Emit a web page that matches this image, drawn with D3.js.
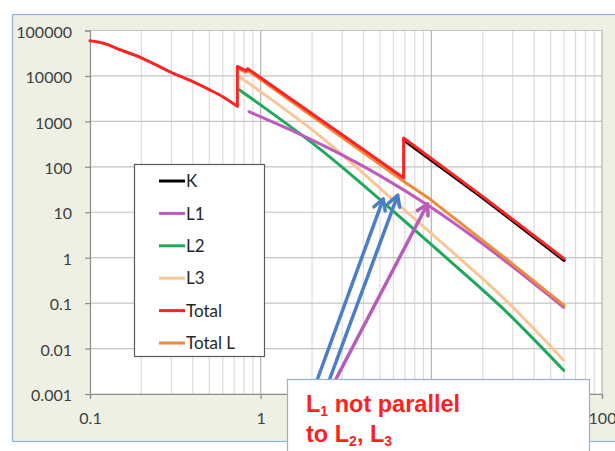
<!DOCTYPE html>
<html><head><meta charset="utf-8">
<script src="https://cdn.jsdelivr.net/npm/d3@7"></script>
<style>
html,body{margin:0;padding:0;background:#fff;}
svg{display:block;}
</style></head>
<body>
<script>
// ---- data (energy in keV) ----
const xTickValues = [0.1, 1, 10, 100];
const xTickLabels = ["0.1", "1", "", "100"];   // the "10" label is hidden under the note box in the picture
const yTickValues = [0.001, 0.01, 0.1, 1, 10, 100, 1000, 10000, 100000];
const yTickLabels = ["0.001", "0.01", "0.1", "1", "10", "100", "1000", "10000", "100000"];

const seriesNames = ["K", "L1", "L2", "L3", "Total", "Total L"];
const seriesColors = ["#000000", "#bd5cbd", "#1ea95a", "#fcc594", "#ff2222", "#ee8a3a"];

const kE = [6.88, 19.4, 60];
const kV = [390, 22.5, 0.87];
const l1E = [0.854, 1.715, 2.94, 5.05, 9.9, 17.0, 25.5, 59.6];
const l1V = [1634, 513, 190, 62.5, 13.0, 3.15, 1.01, 0.081];
const l2E = [0.748, 2.247, 6.61, 12.97, 25.5, 59.6];
const l2V = [4975, 239, 7.65, 0.824, 0.0846, 0.00332];
const l3E = [0.751, 2.247, 6.61, 12.97, 25.5, 59.6];
const l3V = [9600, 461, 13.3, 1.44, 0.148, 0.00551];
const totalE = [0.1, 0.12, 0.15, 0.2, 0.3, 0.4, 0.5, 0.6, 0.73, 0.73, 0.82, 0.84, 1.715, 3.37, 6.88, 6.88, 19.4, 60];
const totalV = [59400, 52300, 37700, 25100, 11900, 7460, 4980, 3490, 2140, 16200, 13000, 14400, 2200, 373, 57, 431, 24.1, 0.946];
const totalLE = [0.73, 0.82, 0.84, 1.715, 3.37, 6.88, 9.9, 25.5, 60];
const totalLV = [14900, 12000, 13300, 1970, 324, 48, 19, 1.17, 0.089];

// annotation arrows (data coordinates: from -> to)
const arrowColors = ["#4a7ec6", "#4a7ec6", "#b95cb9"];
const arrowFromE = [2.08, 2.45, 2.63];
const arrowFromV = [0.0015, 0.0015, 0.0015];
const arrowToE = [5.22, 6.35, 9.5];
const arrowToV = [19.5, 23.5, 15.2];

const noteLines = [["L", "1", " not parallel"], ["to L", "2", ", L", "3", ""]];

// ---- drawing ----
const W = 615, H = 451;
const svg = d3.select("body").append("svg").attr("width", W).attr("height", H);

// chart area (outer)
svg.append("rect").attr("x", 12.5).attr("y", 14.5).attr("width", 640).attr("height", 427)
  .attr("fill", "#eef0e4").attr("stroke", "#8fb2dc").attr("stroke-width", 1.2);

const x = d3.scaleLog().domain([0.1, 100]).range([90, 602]);
const y = d3.scaleLog().domain([0.001, 100000]).range([394, 30.5]);

// plot area
svg.append("rect").attr("x", 90).attr("y", 30.5).attr("width", 512).attr("height", 363.5).attr("fill", "#fff");

// minor vertical grid
const minor = [];
[0.1, 1, 10].forEach(d => { for (let k = 2; k <= 9; k++) minor.push(d * k); });
svg.append("g").selectAll("line").data(minor).join("line")
  .attr("x1", d => x(d)).attr("x2", d => x(d)).attr("y1", y(100000)).attr("y2", y(0.001))
  .attr("stroke", "#dcdcdc").attr("stroke-width", 1.2);

// major horizontal grid
svg.append("g").selectAll("line").data(yTickValues).join("line")
  .attr("x1", x(0.1)).attr("x2", x(100)).attr("y1", d => y(d)).attr("y2", d => y(d))
  .attr("stroke", "#c4c4c4").attr("stroke-width", 1.2);
// major vertical grid
svg.append("g").selectAll("line").data(xTickValues.slice(1)).join("line")
  .attr("x1", d => x(d)).attr("x2", d => x(d)).attr("y1", y(100000)).attr("y2", y(0.001))
  .attr("stroke", "#b4b4b4").attr("stroke-width", 1.2);

// axes
const yAxis = d3.axisLeft(y).tickValues(yTickValues).tickFormat((d, i) => yTickLabels[i]).tickSize(5).tickPadding(13);
const gy = svg.append("g").attr("transform", `translate(${x(0.1)},0)`).call(yAxis);
const xAxis = d3.axisBottom(x).tickValues(xTickValues).tickFormat((d, i) => xTickLabels[i]).tickSize(5).tickPadding(14);
const gx = svg.append("g").attr("transform", `translate(0,${y(0.001)})`).call(xAxis);
[gx, gy].forEach(g => {
  g.select(".domain").attr("stroke", "#8c8c8c").attr("stroke-width", 1.2);
  g.selectAll(".tick line").attr("stroke", "#8c8c8c").attr("stroke-width", 1.2);
  g.selectAll("text").attr("font-family", "Lato, 'Open Sans', sans-serif").attr("font-size", 16).attr("fill", "#404040");
});
gy.selectAll("text").attr("dy", "0.42em");

// series: split at absorption edges (repeated energies)
const zip = (a, b) => a.map((e, i) => [e, b[i]]);
function pieces(pts) {
  const out = [[pts[0]]];
  for (let i = 1; i < pts.length; i++) {
    if (pts[i][0] === pts[i - 1][0]) out.push([pts[i]]);
    else out[out.length - 1].push(pts[i]);
  }
  return out;
}
const smooth = d3.line().x(d => x(d[0])).y(d => y(d[1])).curve(d3.curveMonotoneX);
const straight = d3.line().x(d => x(d[0])).y(d => y(d[1]));
// smoothFirst: smooth only the first (pre-edge) piece; the others are drawn straight
function pathFor(pts, mode) {
  if (mode === "smooth") return smooth(pts);
  const segs = pieces(pts);
  let d = "";
  segs.forEach((seg, k) => {
    let p = (k === 0 && mode === "smoothFirst") ? smooth(seg) : straight(seg);
    if (k > 0) p = "L" + p.slice(1);   // connect vertical edge jump
    d += p;
  });
  return d;
}
const series = [
  {data: zip(l3E, l3V), color: seriesColors[3], mode: "smooth"},
  {data: zip(l2E, l2V), color: seriesColors[2], mode: "smooth"},
  {data: zip(l1E, l1V), color: seriesColors[1], mode: "smooth"},
  {data: zip(totalLE, totalLV), color: seriesColors[5], mode: "straight"},
  {data: zip(kE, kV), color: seriesColors[0], mode: "straight"},
  {data: zip(totalE, totalV), color: seriesColors[4], mode: "smoothFirst"}
];
svg.append("g").selectAll("path").data(series).join("path")
  .attr("d", d => pathFor(d.data, d.mode)).attr("fill", "none").attr("stroke", d => d.color)
  .attr("stroke-width", 3).attr("stroke-linejoin", "round").attr("stroke-linecap", "round");

// legend
const lg = svg.append("g");
lg.append("rect").attr("x", 134.5).attr("y", 164.5).attr("width", 130).attr("height", 192)
  .attr("fill", "#fff").attr("stroke", "#5a5a5a").attr("stroke-width", 1.2);
const ly = d3.scaleLinear().domain([0, 5]).range([181, 343]);
const items = lg.selectAll("g").data(seriesNames).join("g").attr("transform", (d, i) => `translate(0,${ly(i)})`);
items.append("line").attr("x1", 159).attr("x2", 185).attr("y1", 0).attr("y2", 0)
  .attr("stroke", (d, i) => seriesColors[i]).attr("stroke-width", 3);
items.append("text").attr("x", 186).attr("y", 0).attr("dy", "0.36em").text(d => d)
  .attr("font-family", "Lato, 'Open Sans', sans-serif").attr("font-size", 17).attr("fill", "#262626");

// arrows
const ag = svg.append("g");
arrowColors.forEach((c, i) => {
  const x0 = x(arrowFromE[i]), y0 = y(arrowFromV[i]), x1 = x(arrowToE[i]), y1 = y(arrowToV[i]);
  const ang = Math.atan2(y1 - y0, x1 - x0);
  const L = 12, a = Math.PI / 6;
  ag.append("line").attr("x1", x0).attr("y1", y0).attr("x2", x1).attr("y2", y1)
    .attr("stroke", c).attr("stroke-width", 3.5).attr("stroke-linecap", "round");
  ag.append("path").attr("d",
      `M${x1 - L * Math.cos(ang - a)},${y1 - L * Math.sin(ang - a)}L${x1},${y1}L${x1 - L * Math.cos(ang + a)},${y1 - L * Math.sin(ang + a)}`)
    .attr("fill", "none").attr("stroke", c).attr("stroke-width", 3.5).attr("stroke-linecap", "round").attr("stroke-linejoin", "round");
});

// note box
svg.append("rect").attr("x", 287.5).attr("y", 379.5).attr("width", 302).attr("height", 90)
  .attr("fill", "#fff").attr("stroke", "#8fb2dc").attr("stroke-width", 1.2);
const nt = svg.append("g").attr("font-family", "'Liberation Sans', Arial, sans-serif").attr("font-weight", "bold").attr("fill", "#ff1f1f");
noteLines.forEach((parts, li) => {
  const t = nt.append("text").attr("x", 306).attr("y", 412 + li * 29.5).attr("font-size", 23.5);
  parts.forEach((p, j) => {
    if (!p) return;
    if (j % 2 === 1) t.append("tspan").attr("font-size", 14).attr("dy", 4).text(p);
    else t.append("tspan").attr("dy", j === 0 ? 0 : -4).text(p);
  });
});
</script>
</body></html>
